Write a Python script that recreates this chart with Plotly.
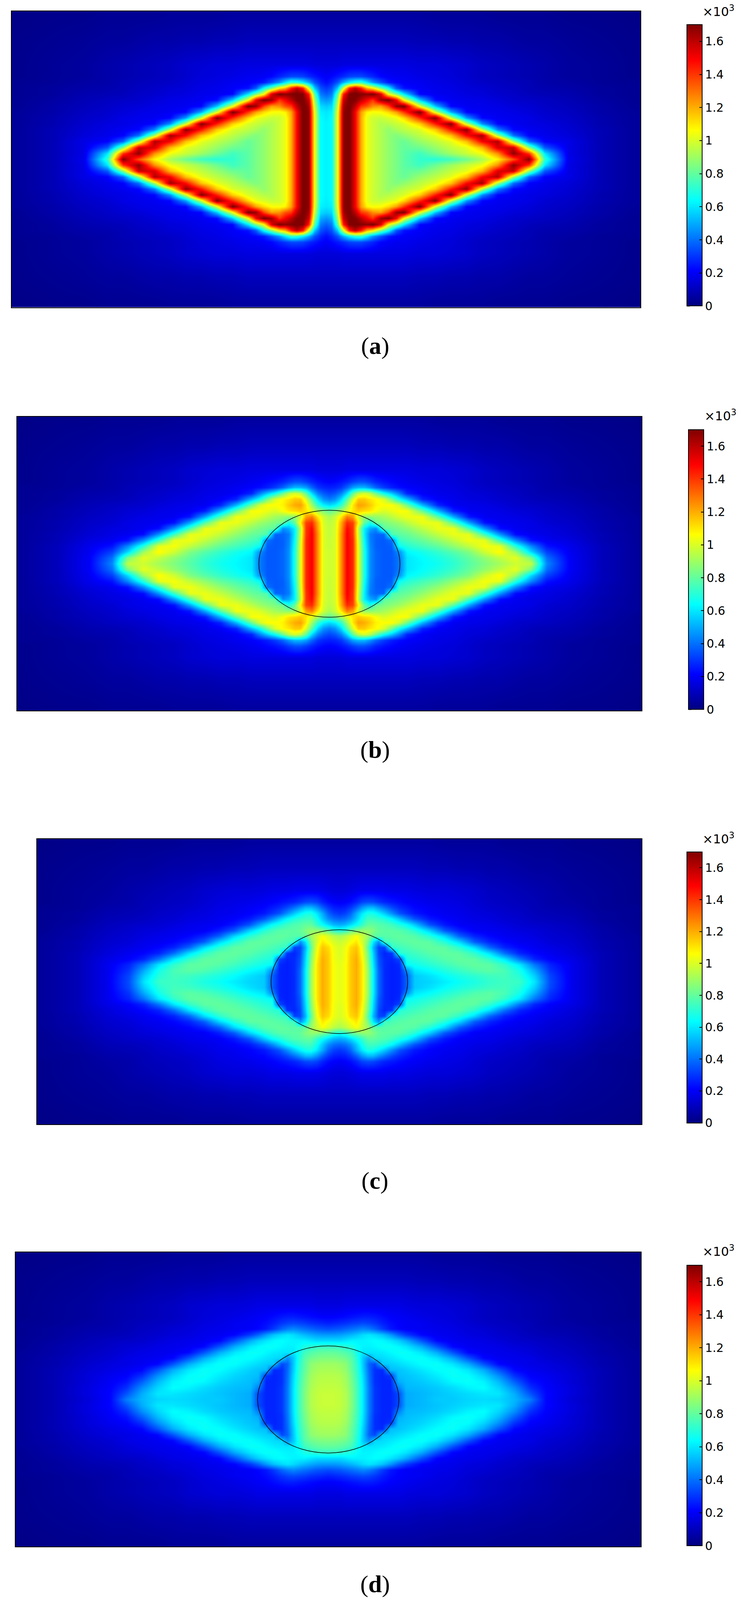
import numpy as np
import plotly.graph_objects as go

# grid of the upper right quarter of each map, mirrored later (the maps are symmetric)
x_half = [0, 15, 30, 45, 60, 75, 90, 105, 120, 140, 160, 180, 200, 240, 280, 320, 360, 400, 440, 480, 520, 560, 620, 700, 805]
y_half = [0, 20, 40, 60, 80, 100, 120, 140, 160, 180, 200, 220, 240, 260, 280, 320, 400, 500]

# values, in hundredths of the colorbar unit
values_a = [
    [62, 64, 105, 168, 172, 150, 120, 103, 98, 93, 88, 84, 79, 72, 70, 74, 82, 92, 108, 135, 170, 72, 18, 9, 4],
    [62, 64, 105, 168, 172, 150, 120, 103, 98, 93, 88, 84, 79, 74, 82, 90, 97, 104, 125, 168, 140, 60, 17, 9, 4],
    [62, 64, 105, 168, 172, 150, 120, 103, 98, 93, 88, 84, 80, 82, 89, 96, 102, 118, 155, 158, 87, 36, 17, 9, 4],
    [62, 64, 105, 168, 172, 150, 120, 103, 98, 93, 88, 84, 81, 89, 95, 102, 117, 150, 162, 90, 38, 21, 17, 9, 4],
    [62, 64, 105, 168, 172, 150, 120, 103, 98, 93, 88, 85, 88, 95, 102, 116, 148, 165, 92, 40, 21, 18, 15, 9, 4],
    [62, 64, 105, 168, 172, 150, 120, 103, 98, 93, 88, 92, 95, 100, 115, 145, 168, 95, 43, 22, 19, 17, 14, 9, 4],
    [62, 64, 105, 168, 172, 150, 120, 103, 98, 93, 94, 97, 100, 114, 144, 170, 97, 45, 22, 19, 17, 16, 13, 8, 4],
    [61, 64, 105, 168, 172, 150, 120, 103, 98, 97, 100, 103, 113, 142, 170, 98, 47, 22, 19, 18, 17, 14, 12, 8, 4],
    [60, 62, 103, 168, 172, 150, 122, 108, 105, 106, 112, 122, 140, 172, 100, 50, 22, 19, 18, 17, 15, 13, 11, 7, 4],
    [55, 58, 98, 165, 172, 160, 140, 135, 125, 122, 138, 166, 172, 103, 54, 22, 19, 18, 17, 15, 14, 12, 10, 7, 3],
    [46, 50, 90, 158, 172, 170, 160, 150, 140, 165, 172, 150, 105, 55, 23, 19, 18, 17, 15, 13, 12, 11, 9, 6, 3],
    [37, 42, 78, 145, 170, 172, 170, 168, 172, 155, 105, 85, 60, 22, 19, 18, 16, 15, 13, 12, 10, 9, 8, 5, 3],
    [30, 35, 55, 100, 145, 160, 145, 120, 110, 85, 65, 36, 24, 20, 18, 17, 15, 14, 12, 11, 9, 8, 7, 5, 3],
    [23, 27, 35, 50, 62, 70, 72, 60, 46, 35, 25, 22, 20, 19, 17, 16, 14, 12, 11, 10, 9, 7, 6, 4, 3],
    [20, 22, 25, 28, 32, 33, 33, 30, 27, 22, 20, 19, 19, 17, 16, 15, 13, 11, 10, 9, 8, 7, 5, 4, 2],
    [15, 15, 15, 16, 16, 16, 16, 16, 16, 16, 16, 16, 16, 15, 15, 14, 13, 11, 10, 9, 8, 7, 5, 4, 2],
    [10, 10, 10, 10, 10, 10, 10, 10, 10, 10, 10, 10, 10, 9, 9, 8, 8, 7, 7, 6, 5, 5, 4, 3, 2],
    [5, 5, 5, 5, 5, 5, 5, 5, 5, 5, 5, 5, 5, 5, 4, 4, 4, 4, 3, 3, 3, 3, 2, 2, 1],
]

values_b = [
    [98, 100, 125, 150, 142, 102, 68, 45, 38, 36, 36, 42, 60, 63, 66, 71, 78, 85, 91, 98, 96, 44, 20, 10, 4],
    [98, 100, 125, 150, 142, 102, 68, 45, 38, 36, 36, 42, 60, 64, 68, 73, 80, 88, 96, 102, 84, 40, 20, 10, 4],
    [98, 100, 125, 150, 142, 102, 68, 45, 38, 36, 36, 46, 63, 67, 72, 78, 85, 98, 107, 90, 58, 32, 19, 10, 4],
    [97, 100, 125, 150, 142, 102, 66, 44, 37, 36, 37, 65, 70, 75, 80, 88, 96, 105, 102, 70, 44, 24, 18, 10, 4],
    [97, 100, 125, 150, 142, 100, 64, 43, 37, 36, 40, 73, 76, 81, 88, 96, 104, 102, 72, 45, 24, 19, 16, 9, 4],
    [96, 100, 125, 150, 140, 98, 62, 42, 38, 38, 76, 79, 81, 88, 96, 103, 102, 74, 46, 23, 19, 17, 14, 9, 4],
    [96, 100, 122, 148, 140, 96, 62, 50, 45, 79, 81, 84, 87, 95, 103, 103, 76, 47, 23, 19, 17, 16, 13, 8, 4],
    [95, 99, 120, 142, 138, 108, 80, 68, 82, 84, 87, 90, 95, 103, 103, 78, 49, 24, 19, 18, 17, 14, 12, 8, 4],
    [92, 98, 110, 128, 122, 98, 88, 87, 88, 91, 95, 100, 103, 104, 79, 50, 25, 19, 18, 17, 15, 13, 11, 7, 4],
    [80, 85, 92, 102, 110, 115, 112, 110, 105, 100, 103, 106, 105, 81, 52, 26, 19, 18, 17, 15, 14, 12, 10, 7, 3],
    [58, 62, 72, 90, 110, 122, 120, 115, 108, 106, 106, 98, 82, 52, 27, 19, 18, 17, 15, 13, 12, 11, 9, 6, 3],
    [42, 46, 58, 78, 100, 115, 115, 110, 107, 100, 83, 65, 53, 27, 20, 18, 16, 15, 13, 12, 10, 9, 8, 5, 3],
    [33, 36, 43, 58, 80, 95, 100, 95, 82, 66, 55, 42, 27, 20, 18, 17, 15, 14, 12, 11, 9, 8, 7, 5, 3],
    [26, 27, 30, 38, 48, 52, 52, 46, 38, 31, 26, 23, 21, 19, 17, 16, 14, 12, 11, 10, 9, 7, 6, 4, 3],
    [21, 22, 24, 27, 31, 34, 34, 31, 27, 24, 22, 20, 19, 17, 16, 15, 13, 11, 10, 9, 8, 7, 5, 4, 2],
    [15, 15, 15, 16, 16, 16, 16, 16, 16, 16, 16, 16, 16, 15, 15, 14, 13, 11, 10, 9, 8, 7, 5, 4, 2],
    [10, 10, 10, 10, 10, 10, 10, 10, 10, 10, 10, 10, 10, 9, 9, 8, 8, 7, 7, 6, 5, 5, 4, 3, 2],
    [5, 5, 5, 5, 5, 5, 5, 5, 5, 5, 5, 5, 5, 5, 4, 4, 4, 4, 3, 3, 3, 3, 2, 2, 1],
]

values_c = [
    [102, 105, 115, 120, 110, 90, 62, 38, 28, 26, 27, 38, 55, 57, 61, 65, 68, 72, 74, 73, 60, 34, 18, 9, 4],
    [102, 105, 115, 120, 110, 90, 62, 38, 28, 26, 27, 38, 55, 59, 64, 68, 71, 74, 75, 70, 56, 33, 18, 9, 4],
    [102, 105, 115, 120, 110, 90, 62, 38, 28, 26, 27, 45, 60, 64, 69, 73, 77, 79, 76, 67, 50, 30, 18, 9, 4],
    [102, 105, 115, 120, 110, 88, 60, 36, 28, 26, 28, 64, 66, 70, 74, 78, 80, 79, 72, 60, 41, 27, 18, 9, 4],
    [101, 104, 115, 120, 108, 86, 58, 35, 28, 27, 33, 68, 70, 74, 78, 80, 79, 72, 60, 41, 27, 21, 17, 9, 4],
    [100, 104, 114, 118, 106, 84, 56, 33, 27, 30, 70, 72, 74, 78, 80, 79, 72, 59, 40, 27, 22, 19, 15, 9, 4],
    [100, 103, 112, 116, 104, 80, 52, 33, 32, 72, 74, 76, 78, 80, 79, 71, 58, 38, 27, 22, 19, 17, 14, 8, 4],
    [97, 100, 105, 110, 100, 85, 60, 45, 74, 76, 78, 79, 80, 79, 70, 57, 37, 27, 22, 19, 18, 15, 13, 8, 4],
    [92, 95, 100, 105, 98, 90, 80, 78, 78, 79, 80, 79, 78, 70, 57, 37, 27, 22, 19, 18, 16, 14, 12, 7, 4],
    [68, 72, 80, 85, 88, 88, 85, 80, 79, 79, 78, 75, 70, 56, 36, 26, 20, 19, 18, 16, 15, 13, 11, 7, 3],
    [50, 52, 58, 65, 72, 80, 80, 78, 77, 74, 69, 64, 55, 35, 25, 20, 19, 18, 16, 14, 13, 12, 10, 6, 3],
    [38, 40, 45, 55, 66, 74, 74, 72, 69, 63, 54, 44, 35, 25, 21, 19, 17, 16, 14, 13, 11, 10, 9, 5, 3],
    [30, 32, 38, 50, 60, 68, 67, 62, 55, 45, 35, 30, 25, 21, 19, 18, 16, 15, 13, 12, 10, 9, 8, 5, 3],
    [25, 26, 30, 37, 46, 52, 52, 46, 40, 33, 28, 25, 22, 20, 18, 17, 15, 13, 12, 11, 9, 8, 7, 4, 3],
    [20, 21, 23, 27, 32, 34, 33, 30, 27, 25, 23, 21, 20, 18, 17, 16, 14, 12, 11, 10, 9, 7, 6, 4, 2],
    [15, 15, 16, 17, 18, 18, 18, 18, 18, 17, 17, 17, 16, 15, 15, 14, 13, 11, 10, 9, 8, 7, 5, 4, 2],
    [10, 10, 10, 10, 10, 10, 10, 10, 10, 10, 10, 10, 10, 9, 9, 8, 8, 7, 7, 6, 5, 5, 4, 3, 2],
    [5, 5, 5, 5, 5, 5, 5, 5, 5, 5, 5, 5, 5, 5, 4, 4, 4, 4, 3, 3, 3, 3, 2, 2, 1],
]

values_d = [
    [97, 97, 96, 93, 85, 74, 60, 42, 30, 27, 27, 33, 50, 52, 55, 55, 57, 58, 57, 52, 42, 22, 15, 9, 4],
    [97, 97, 96, 93, 85, 74, 60, 42, 30, 27, 27, 33, 50, 52, 54, 56, 58, 60, 60, 50, 35, 22, 16, 9, 4],
    [96, 96, 95, 92, 84, 74, 60, 42, 30, 27, 27, 42, 52, 53, 55, 58, 62, 64, 57, 45, 29, 21, 16, 9, 4],
    [95, 95, 94, 91, 83, 73, 59, 41, 29, 27, 27, 50, 53, 55, 58, 63, 65, 62, 52, 37, 24, 20, 15, 9, 4],
    [94, 94, 93, 90, 82, 72, 58, 40, 29, 27, 30, 53, 54, 57, 61, 65, 64, 57, 45, 29, 21, 19, 15, 9, 4],
    [92, 92, 91, 88, 80, 71, 56, 39, 29, 28, 53, 54, 56, 60, 64, 65, 60, 50, 35, 22, 19, 17, 14, 9, 4],
    [90, 90, 89, 87, 79, 70, 55, 38, 33, 55, 56, 58, 60, 64, 65, 60, 50, 35, 22, 19, 17, 16, 13, 8, 4],
    [85, 85, 84, 82, 78, 68, 55, 45, 57, 58, 60, 62, 64, 65, 60, 50, 35, 22, 19, 18, 17, 14, 12, 8, 4],
    [80, 80, 79, 77, 74, 66, 60, 60, 60, 61, 63, 65, 65, 60, 50, 35, 22, 19, 18, 17, 15, 13, 11, 7, 4],
    [73, 73, 72, 70, 68, 64, 62, 62, 63, 65, 65, 63, 60, 50, 35, 22, 19, 18, 17, 15, 14, 12, 10, 7, 3],
    [58, 58, 58, 60, 62, 62, 62, 63, 64, 63, 60, 56, 50, 35, 22, 19, 18, 17, 15, 13, 12, 11, 9, 6, 3],
    [47, 47, 48, 50, 52, 55, 58, 60, 58, 54, 47, 38, 31, 22, 19, 18, 16, 15, 13, 12, 10, 9, 8, 5, 3],
    [34, 35, 36, 38, 40, 42, 44, 42, 38, 31, 25, 22, 20, 19, 18, 17, 15, 14, 12, 11, 9, 8, 7, 5, 3],
    [26, 27, 28, 29, 31, 32, 33, 32, 30, 26, 23, 21, 20, 19, 17, 16, 14, 12, 11, 10, 9, 7, 6, 4, 3],
    [21, 21, 22, 23, 24, 25, 26, 26, 25, 23, 21, 20, 19, 17, 16, 15, 13, 11, 10, 9, 8, 7, 5, 4, 2],
    [16, 16, 16, 17, 17, 17, 17, 17, 17, 17, 17, 17, 16, 15, 15, 14, 13, 11, 10, 9, 8, 7, 5, 4, 2],
    [10, 10, 10, 10, 10, 10, 10, 10, 10, 10, 10, 10, 10, 9, 9, 8, 8, 7, 7, 6, 5, 5, 4, 3, 2],
    [5, 5, 5, 5, 5, 5, 5, 5, 5, 5, 5, 5, 5, 5, 4, 4, 4, 4, 3, 3, 3, 3, 2, 2, 1],
]

captions = ["a", "b", "c", "d"]
circle_radius = [0, 182, 182, 182]
tick_values = [0, 0.2, 0.4, 0.6, 0.8, 1, 1.2, 1.4, 1.6]
tick_labels = ["0", "0.2", "0.4", "0.6", "0.8", "1", "1.2", "1.4", "1.6"]
z_max = 1.7

# pixel layout of the page
W, H = 1899, 5421
panel_left = [30, 44, 95, 40]
panel_right = [1639, 1642, 1642, 1640]
panel_top = [38, 1412, 2843, 4243]
panel_bottom = [1041, 2408, 3809, 5240]
bar_left = [1758, 1762, 1758, 1758]
bar_top = [84, 1456, 2886, 4287]
bar_bottom = [1037, 2404, 3805, 5237]
scale_left = [1796, 1801, 1796, 1796]
scale_base = [68, 1437, 2870, 4268]
caption_mid = [1172, 2540, 4000, 5368]

jet = [
    [0, "rgb(0,0,128)"],
    [0.125, "rgb(0,0,255)"],
    [0.375, "rgb(0,255,255)"],
    [0.625, "rgb(255,255,0)"],
    [0.875, "rgb(255,0,0)"],
    [1, "rgb(128,0,0)"],
]


def mirror(quarter):
    # quarter has x and y growing from the centre of the map
    quarter = np.array(quarter) / 100
    right = np.vstack([quarter[:0:-1], quarter])
    return np.hstack([right[:, :0:-1], right])


x_full = [-v for v in x_half[:0:-1]] + x_half
y_full = [-v for v in y_half[:0:-1]] + y_half

fig = go.Figure()
annotations = []
shapes = []

all_values = [values_a, values_b, values_c, values_d]
for i, values in enumerate(all_values):
    n = "" if i == 0 else str(i + 1)
    fig.add_trace(go.Heatmap(
        x=x_full,
        y=y_full,
        z=mirror(values),
        xaxis="x" + n,
        yaxis="y" + n,
        zmin=0,
        zmax=z_max,
        zsmooth="best",
        colorscale=jet,
        hoverinfo="skip",
        colorbar=dict(
            thicknessmode="pixels",
            thickness=39,
            lenmode="fraction",
            len=(bar_bottom[i] - bar_top[i]) / H,
            x=bar_left[i] / W,
            xanchor="left",
            xpad=0,
            y=1 - bar_top[i] / H,
            yanchor="top",
            ypad=0,
            outlinecolor="black",
            outlinewidth=2,
            ticks="inside",
            ticklen=8,
            tickwidth=2,
            tickcolor="black",
            tickvals=tick_values,
            ticktext=tick_labels,
            tickfont=dict(family="DejaVu Sans", size=30, color="black"),
        ),
    ))
    axis = dict(showgrid=False, zeroline=False, showticklabels=False, ticks="",
                showline=True, mirror=True, linecolor="black", linewidth=2)
    fig.update_layout(**{
        "xaxis" + n: dict(axis, range=[-805, 805], anchor="y" + n,
                          domain=[panel_left[i] / W, panel_right[i] / W]),
        "yaxis" + n: dict(axis, range=[-500, 500], anchor="x" + n,
                          domain=[1 - panel_bottom[i] / H, 1 - panel_top[i] / H]),
    })
    if circle_radius[i]:
        r = circle_radius[i]
        shapes.append(dict(type="circle", xref="x" + n, yref="y" + n,
                           x0=-r, x1=r, y0=-r, y1=r,
                           line=dict(color="black", width=1.5)))
    # the colorbar only ticks on one side, the left side ticks are added here
    for v in tick_values:
        tick_y = 1 - (bar_bottom[i] - v / z_max * (bar_bottom[i] - bar_top[i])) / H
        shapes.append(dict(type="line", xref="paper", yref="paper",
                           x0=bar_left[i] / W, x1=(bar_left[i] + 8) / W,
                           y0=tick_y, y1=tick_y,
                           line=dict(color="black", width=2)))
    annotations.append(dict(
        text="×10<sup>3</sup>", xref="paper", yref="paper",
        x=scale_left[i] / W, y=1 - scale_base[i] / H,
        xanchor="left", yanchor="bottom", showarrow=False,
        font=dict(family="DejaVu Sans", size=32, color="black"),
    ))
    annotations.append(dict(
        text="(<b>%s</b>)" % captions[i], xref="paper", yref="paper",
        x=960 / W, y=1 - caption_mid[i] / H,
        xanchor="center", yanchor="middle", showarrow=False,
        font=dict(family="Liberation Serif", size=62, color="black"),
    ))

fig.update_layout(
    margin=dict(l=0, r=0, t=0, b=0),
    paper_bgcolor="white",
    plot_bgcolor="white",
    annotations=annotations,
    shapes=shapes,
)

fig.write_html("out.html", config={"displayModeBar": False},
               post_script="document.body.style.margin='0';Plotly.Plots.resize(document.querySelector('.plotly-graph-div'));")
